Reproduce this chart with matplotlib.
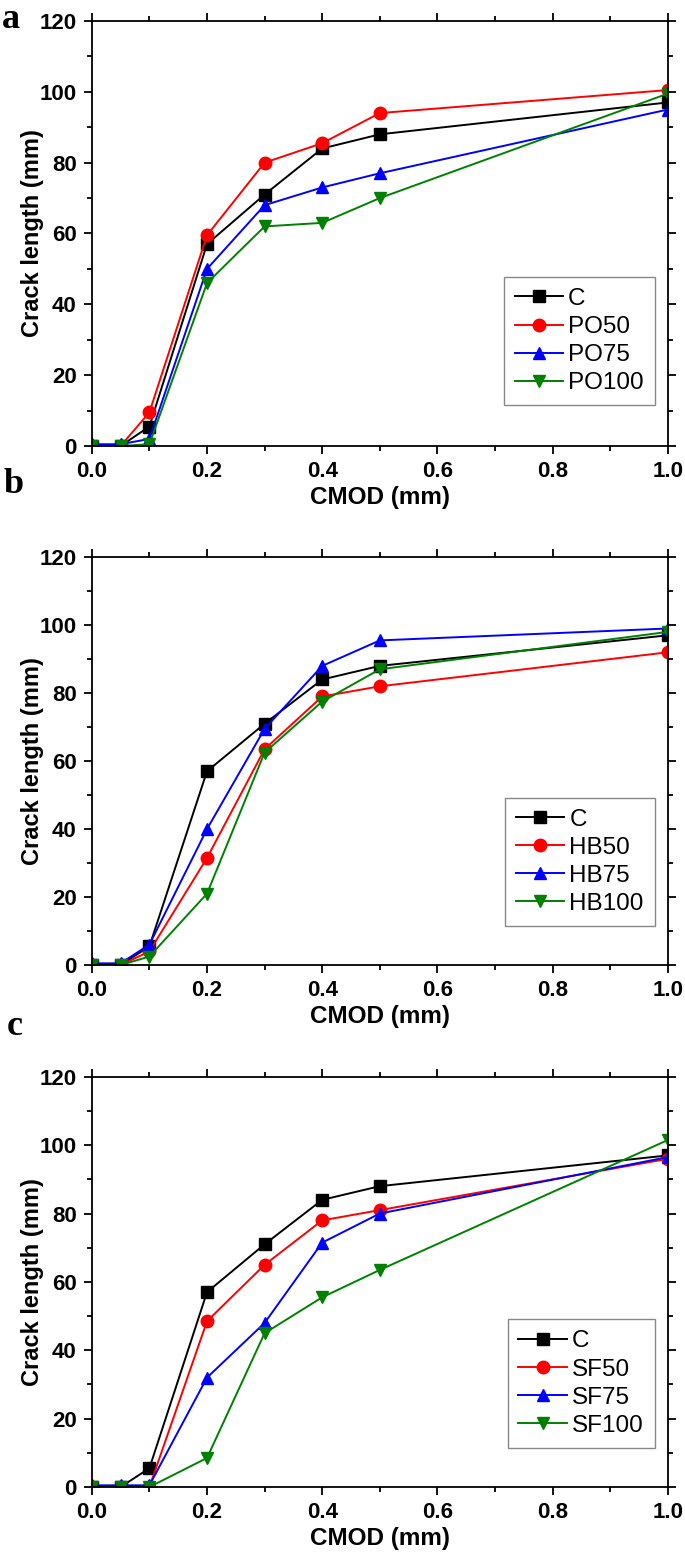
import matplotlib
matplotlib.use('Agg')
import matplotlib.pyplot as plt
from matplotlib.ticker import MultipleLocator

# CMOD positions (mm)
cmod = [0.0, 0.05, 0.1, 0.2, 0.3, 0.4, 0.5, 1.0]

# Control mix (shared by all panels)
crack_c = [0, 0, 5.5, 57, 71, 84, 88, 97]

# Panel a
crack_po50 = [0, 0, 9.5, 59.5, 80, 85.5, 94, 100.5]
crack_po75 = [0.5, 0.5, 2, 50, 68, 73, 77, 95]
crack_po100 = [0, 0, 0.5, 46, 62, 63, 70, 99.5]

# Panel b
crack_hb50 = [0, 0, 4, 31.5, 63.5, 79, 82, 92]
crack_hb75 = [0.5, 0.5, 6, 40, 69.5, 88, 95.5, 99]
crack_hb100 = [0, 0, 2.5, 21, 62.5, 77.5, 87, 98]

# Panel c
crack_sf50 = [0, 0, 0, 48.5, 65, 78, 81, 96]
crack_sf75 = [0.5, 0.5, 0.5, 32, 48, 71.5, 80, 96.5]
crack_sf100 = [0, 0, 0, 8.5, 45, 55.5, 63.5, 101.5]

panels = [
    ('a', ['C', 'PO50', 'PO75', 'PO100'], [crack_c, crack_po50, crack_po75, crack_po100]),
    ('b', ['C', 'HB50', 'HB75', 'HB100'], [crack_c, crack_hb50, crack_hb75, crack_hb100]),
    ('c', ['C', 'SF50', 'SF75', 'SF100'], [crack_c, crack_sf50, crack_sf75, crack_sf100]),
]

colors = ['black', '#FF0000', '#0000FF', '#008000']
markers = ['s', 'o', '^', 'v']

# axes boxes in figure fraction: left, bottom, width, height
boxes = [
    [0.134, 0.713, 0.841, 0.2735],
    [0.134, 0.379, 0.841, 0.2625],
    [0.134, 0.0431, 0.841, 0.264],
]
letter_pos = [(0.003, 0.982), (0.005, 0.6828), (0.010, 0.334)]

fig = plt.figure(figsize=(6.85, 15.54), dpi=100)

tick_font = {'family': 'Liberation Sans', 'weight': 'bold', 'size': 16}

for (letter, labels, series), box, (lx, ly) in zip(panels, boxes, letter_pos):
    ax = fig.add_axes(box)
    for lab, vals, col, mk in zip(labels, series, colors, markers):
        ax.plot(cmod, vals, color=col, marker=mk, markersize=9, linewidth=1.4, label=lab)

    ax.xaxis.set_major_locator(MultipleLocator(0.2))
    ax.xaxis.set_minor_locator(MultipleLocator(0.1))
    ax.yaxis.set_major_locator(MultipleLocator(20))
    ax.yaxis.set_minor_locator(MultipleLocator(10))
    ax.tick_params(which='both', direction='out', top=True, right=True, width=1.3)
    ax.tick_params(which='major', length=6, pad=5)
    ax.tick_params(which='minor', length=3.5)
    xt = [0.0, 0.2, 0.4, 0.6, 0.8, 1.0]
    yt = [0, 20, 40, 60, 80, 100, 120]
    ax.set_xticks(xt)
    ax.set_xticklabels([f'{v:.1f}' for v in xt], fontdict=tick_font)
    ax.set_yticks(yt)
    ax.set_yticklabels([f'{v}' for v in yt], fontdict=tick_font)
    ax.set_xlim(0, 1.0)
    ax.set_ylim(0, 120)
    for sp in ax.spines.values():
        sp.set_linewidth(1.3)

    ax.set_xlabel('CMOD (mm)', fontsize=17.5, fontweight='bold', family='Liberation Sans', labelpad=3)
    ax.set_ylabel('Crack length (mm)', fontsize=17, fontweight='bold', family='Liberation Sans')
    ax.yaxis.set_label_coords(-0.083, 0.5)

    leg = ax.legend(loc='lower right', bbox_to_anchor=(0.977, 0.096),
                    prop={'family': 'Liberation Sans', 'size': 17.5},
                    fancybox=False, edgecolor='#888888', framealpha=1,
                    handlelength=2.0, handletextpad=0.2, labelspacing=0.25,
                    borderpad=0.45, borderaxespad=0)
    leg.get_frame().set_linewidth(1.0)

    fig.text(lx, ly, letter, fontsize=26, fontweight='bold', family='Liberation Serif',
             ha='left', va='baseline')

fig.savefig('out.png', dpi=100)
